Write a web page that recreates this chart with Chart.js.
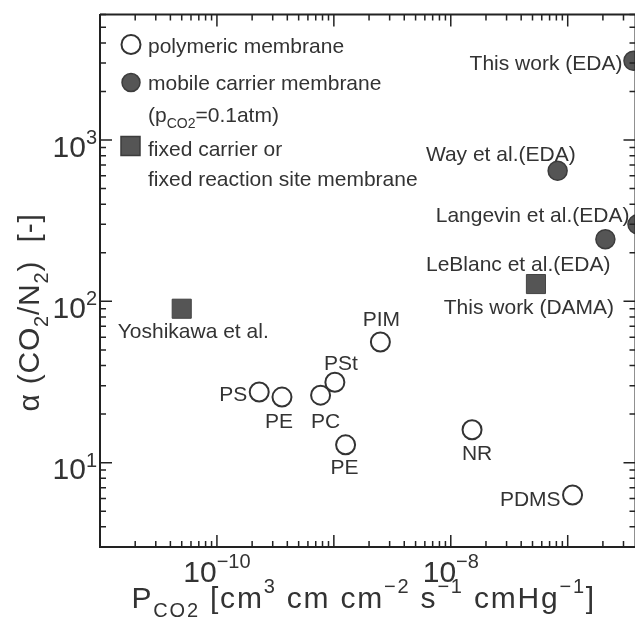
<!DOCTYPE html>
<html>
<head>
<meta charset="utf-8">
<script src="https://cdn.jsdelivr.net/npm/chart.js@4/dist/chart.umd.min.js"></script>
<style>
html, body { margin: 0; padding: 0; background: #fff; overflow: hidden; }
canvas { display: block; }
</style>
</head>
<body>
<canvas id="myChart" width="650" height="620"></canvas>
<script>
// values (log-log): P_CO2 vs alpha(CO2/N2)
var polyNames = ['PS', 'PE', 'PC', 'PSt', 'PE', 'PIM', 'NR', 'PDMS'];
var polyP = [2.3e-10, 3.6e-10, 7.7e-10, 1.02e-9, 1.26e-9, 2.5e-9, 1.52e-8, 1.1e-7];
var polyAlpha = [27.4, 25.5, 26.2, 31.5, 12.9, 56, 16, 6.3];

var mobileNames = ['This work (EDA)', 'Way et al.(EDA)', 'Langevin et al.(EDA)', 'LeBlanc et al.(EDA)'];
var mobileP = [3.65e-7, 8.2e-8, 3.95e-7, 2.1e-7];
var mobileAlpha = [3100, 645, 300, 243];

var fixedNames = ['Yoshikawa et al.', 'This work (DAMA)'];
var fixedP = [5.0e-11, 5.35e-8];
var fixedAlpha = [90, 128];

// decade labels shown on the axes
var xTickExp = [-10, -8];
var yTickExp = [1, 2, 3];

// where each point label sits relative to its marker: [align, dx, dy]
var polyLabelPos = [['right', -12, 1], ['center', -3, 23], ['center', 5, 25], ['center', 6, -20],
                    ['center', -1, 22], ['center', 1, -23], ['center', 5, 23], ['right', -12, 3]];
var mobileLabelPos = [['right', -11, 2], ['right', 18, -17], ['right', -8, -10], ['right', 5, 24]];
var fixedLabelPos = [['left', -64, 22], ['center', -7, 22]];

var FONT = "'Liberation Sans', Arial, sans-serif";
var INK = '#333';
var DARK = '#555';

function toPoints(xs, ys) {
    return xs.map(function (x, i) { return { x: x, y: ys[i] }; });
}

// text with sub/superscripts: parts = [[text, 0|1|-1], ...], y is the baseline
function richText(ctx, parts, x, y, size, align, supRaise, spacing) {
    var small = Math.round(size * 0.66);
    var sp = spacing || 0;
    var widths = parts.map(function (p) {
        ctx.font = (p[1] ? small : size) + 'px ' + FONT;
        return ctx.measureText(p[0]).width + sp * p[0].length;
    });
    var total = widths.reduce(function (a, b) { return a + b; }, 0);
    var cx = align === 'center' ? x - total / 2 : (align === 'right' ? x - total : x);
    ctx.textAlign = 'left';
    ctx.textBaseline = 'alphabetic';
    parts.forEach(function (p, i) {
        ctx.font = (p[1] ? small : size) + 'px ' + FONT;
        var dy = p[1] === 1 ? -size * (supRaise || 0.5) : (p[1] === -1 ? size * 0.3 : 0);
        if (!sp) {
            ctx.fillText(p[0], cx, y + dy);
            cx += widths[i];
            return;
        }
        p[0].split('').forEach(function (ch) {
            ctx.fillText(ch, cx, y + dy);
            cx += ctx.measureText(ch).width + sp;
        });
    });
}

var decorations = {
    id: 'decorations',
    afterDatasetsDraw: function (chart) {
        var ctx = chart.ctx;
        var a = chart.chartArea;
        var xs = chart.scales.x, ys = chart.scales.y;
        ctx.save();

        // top + right frame
        ctx.strokeStyle = '#222';
        ctx.lineWidth = 2;
        ctx.beginPath();
        ctx.moveTo(a.left, a.top);
        ctx.lineTo(a.right, a.top);
        ctx.lineTo(a.right, a.bottom);
        ctx.stroke();

        // inward ticks on all four sides
        ctx.lineWidth = 1.5;
        ctx.beginPath();
        [xs, ys].forEach(function (s) {
            var lo = Math.floor(Math.log10(s.min)), hi = Math.ceil(Math.log10(s.max));
            for (var e = lo; e <= hi; e++) {
                for (var k = 1; k < 10; k++) {
                    var v = k * Math.pow(10, e);
                    if (v < s.min * 0.999 || v > s.max * 1.001) continue;
                    var len = k === 1 ? 12 : 6;
                    var p = s.getPixelForValue(v);
                    if (s === xs) {
                        ctx.moveTo(p, a.bottom); ctx.lineTo(p, a.bottom - len);
                        ctx.moveTo(p, a.top); ctx.lineTo(p, a.top + len);
                    } else {
                        ctx.moveTo(a.left, p); ctx.lineTo(a.left + len, p);
                        ctx.moveTo(a.right, p); ctx.lineTo(a.right - len, p);
                    }
                }
            }
        });
        ctx.stroke();

        ctx.fillStyle = INK;
        // tick labels 10^n
        xTickExp.forEach(function (n) {
            var px = xs.getPixelForValue(Math.pow(10, n));
            richText(ctx, [['10', 0], ['\u2212' + Math.abs(n), 1]], px, a.bottom + 35, 30, 'center', 0.47);
        });
        yTickExp.forEach(function (n) {
            var py = ys.getPixelForValue(Math.pow(10, n));
            richText(ctx, [['10', 0], [String(n), 1]], a.left - 3, py + 16.5, 30, 'right', 0.42);
        });

        // axis titles
        richText(ctx, [['P', 0], ['CO2', -1], [' [cm', 0], ['3', 1], [' cm cm', 0], ['\u22122', 1],
                       [' s', 0], ['\u22121', 1], [' cmHg', 0], ['\u22121', 1], [']', 0]],
                 (a.left + a.right) / 2 - 4, a.bottom + 61, 30, 'center', 0.5, 1.8);
        ctx.save();
        ctx.translate(39, a.top + 298);
        ctx.rotate(-Math.PI / 2);
        richText(ctx, [['\u03b1 (CO', 0], ['2', -1], ['/N', 0], ['2', -1], [')  [-]', 0]], 0, 0, 30, 'center', 0.5, 0.8);
        ctx.restore();

        // point labels
        chart.data.datasets.forEach(function (ds, di) {
            var meta = chart.getDatasetMeta(di);
            meta.data.forEach(function (pt, i) {
                var pos = ds.labelPos[i];
                richText(ctx, [[ds.names[i], 0]], pt.x + pos[1], pt.y + pos[2] + 7.5, 21, pos[0]);
            });
        });

        // legend inside the plot
        var lx = a.left + 31;
        ctx.lineWidth = 2;
        ctx.strokeStyle = INK;
        ctx.fillStyle = '#fff';
        ctx.beginPath(); ctx.arc(lx, a.top + 30, 9.5, 0, Math.PI * 2); ctx.fill(); ctx.stroke();
        ctx.fillStyle = DARK;
        ctx.strokeStyle = '#3c3c3c';
        ctx.lineWidth = 1.5;
        ctx.beginPath(); ctx.arc(lx, a.top + 68, 9, 0, Math.PI * 2); ctx.fill(); ctx.stroke();
        ctx.beginPath(); ctx.rect(lx - 10, a.top + 122, 19, 19); ctx.fill(); ctx.stroke();

        ctx.fillStyle = INK;
        var tx = a.left + 48;
        richText(ctx, [['polymeric membrane', 0]], tx, a.top + 38, 21, 'left');
        richText(ctx, [['mobile carrier membrane', 0]], tx, a.top + 75, 21, 'left');
        richText(ctx, [['(p', 0], ['CO2', -1], ['=0.1atm)', 0]], tx, a.top + 107, 21, 'left');
        richText(ctx, [['fixed carrier or', 0]], tx, a.top + 141, 21, 'left');
        richText(ctx, [['fixed reaction site membrane', 0]], tx, a.top + 171, 21, 'left');

        ctx.restore();
    }
};

var ctx = document.getElementById('myChart').getContext('2d');
var myChart = new Chart(ctx, {
    type: 'scatter',
    data: {
        datasets: [
            {
                label: 'polymeric membrane',
                data: toPoints(polyP, polyAlpha),
                names: polyNames,
                labelPos: polyLabelPos,
                pointStyle: 'circle',
                pointRadius: 9.5,
                pointBackgroundColor: '#fff',
                pointBorderColor: INK,
                pointBorderWidth: 2,
                clip: false
            },
            {
                label: 'mobile carrier membrane',
                data: toPoints(mobileP, mobileAlpha),
                names: mobileNames,
                labelPos: mobileLabelPos,
                pointStyle: 'circle',
                pointRadius: 9.5,
                pointBackgroundColor: DARK,
                pointBorderColor: '#3c3c3c',
                pointBorderWidth: 1.5,
                clip: false
            },
            {
                label: 'fixed carrier or fixed reaction site membrane',
                data: toPoints(fixedP, fixedAlpha),
                names: fixedNames,
                labelPos: fixedLabelPos,
                pointStyle: 'rect',
                pointRadius: 13.5,
                pointBackgroundColor: DARK,
                pointBorderColor: '#444',
                pointBorderWidth: 1,
                clip: false
            }
        ]
    },
    options: {
        responsive: false,
        animation: false,
        layout: { padding: { left: 100, top: 12, right: 12, bottom: 73 } },
        plugins: {
            legend: { display: false },
            tooltip: { enabled: false }
        },
        scales: {
            x: {
                type: 'logarithmic',
                min: 1e-11,
                max: 3.8e-7,
                grid: { display: false, drawTicks: false },
                border: { display: true, color: '#222', width: 2 },
                ticks: { display: false }
            },
            y: {
                type: 'logarithmic',
                min: 3,
                max: 6000,
                grid: { display: false, drawTicks: false },
                border: { display: true, color: '#222', width: 2 },
                ticks: { display: false }
            }
        }
    },
    plugins: [decorations]
});
</script>
</body>
</html>
